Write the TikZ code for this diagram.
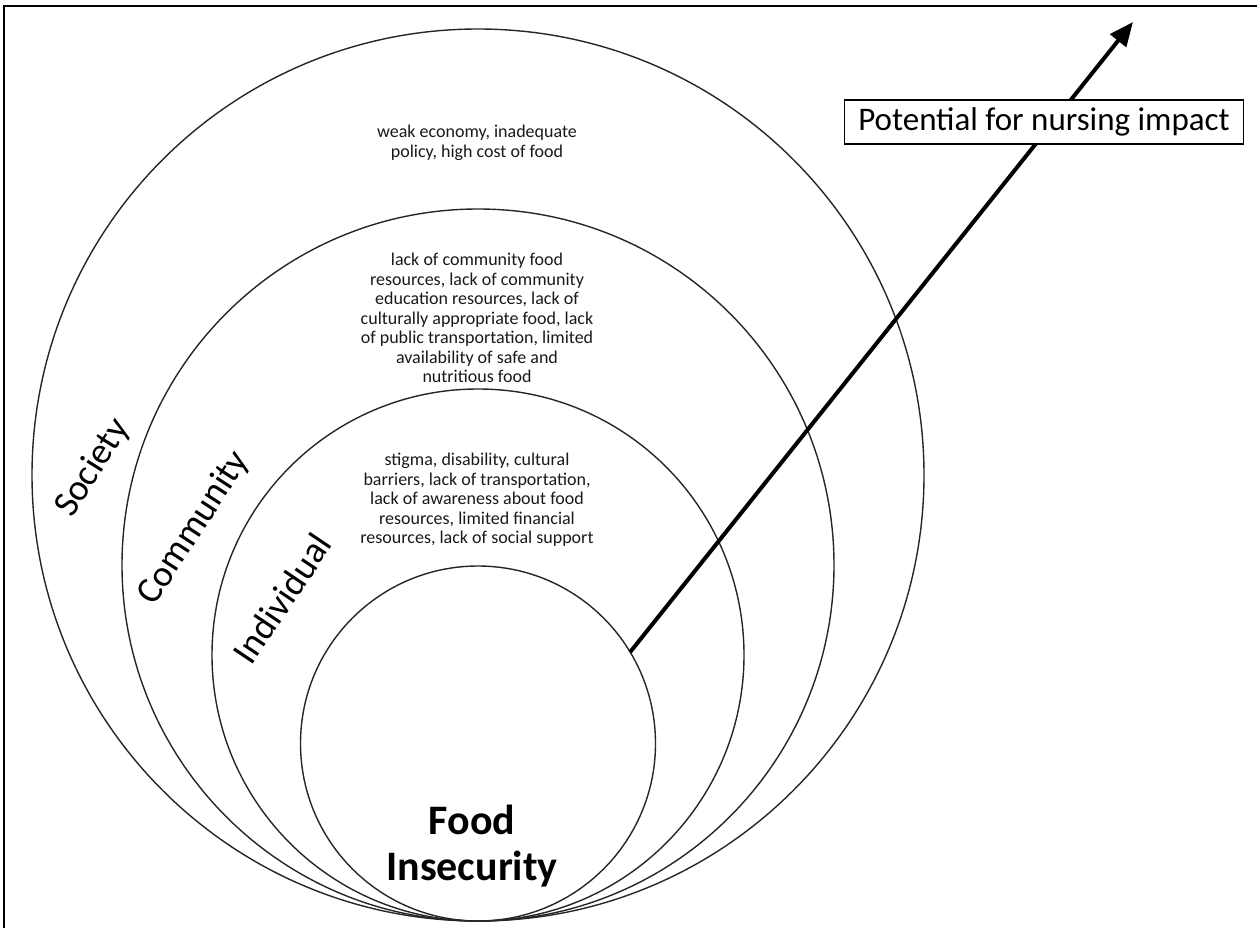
\documentclass[tikz,border=0pt]{standalone}
\usepackage{fontspec}
\setmainfont{Carlito}
\usetikzlibrary{arrows.meta,positioning}

\begin{document}
\begin{tikzpicture}[
    x=1pt,y=-1pt,
    ring/.style={circle,draw=black!85,line width=1.4pt,inner sep=0pt,outer sep=0pt},
    level/.style={font=\fontsize{37}{40}\selectfont,inner sep=0pt},
    cause/.style={align=center,font=\fontsize{18}{19.5}\selectfont,text=black!90,inner sep=0pt},
    ar/.style={-{Triangle[length=24pt,width=20pt]},line width=4pt},
    impact/.style={draw,line width=1.5pt,fill=white,minimum width=399pt,
                   minimum height=44pt,font=\fontsize{33}{36}\selectfont}
  ]
  \useasboundingbox (0,0) rectangle (1257,928);
  \draw[line width=2pt] (4,928) -- (4,6) -- (1257,6);

  % nested levels, all touching at the bottom
  \node[ring,minimum size=892pt] (society) at (478,475) {};
  \node[ring,minimum size=712pt] (community) at (478,565) {};
  \node[ring,minimum size=532pt] (individual) at (478,655) {};
  \node[ring,minimum size=355pt] (food) at (478,743.5) {};

  \node[level,rotate=58] (societylbl) at (93,468) {Society};
  \node[level,rotate=57] (communitylbl) at (194,528) {Community};
  \node[level,rotate=56] (individuallbl) at (282,598) {Individual};
  \node[align=center,font=\fontsize{42}{46}\selectfont\bfseries] (foodlbl) at (472,846) {Food\\Insecurity};

  % causes at each level
  \node[cause] (societyc) at (477,143) {weak economy, inadequate\\policy, high cost of food};
  \node[cause] (communityc) at (477,318) {lack of community food\\resources, lack of community\\education resources, lack of\\culturally appropriate food, lack\\of public transportation, limited\\availability of safe and\\nutritious food};
  \node[cause] (individualc) at (477,500) {stigma, disability, cultural\\barriers, lack of transportation,\\lack of awareness about food\\resources, limited financial\\resources, lack of social support};

  % nursing arrow
  \coordinate (tip) at (1133,22);
  \draw[ar] (food.31) -- (tip);
  \node[impact] (nursing) at (1044,122) {Potential for nursing impact};
\end{tikzpicture}
\end{document}
